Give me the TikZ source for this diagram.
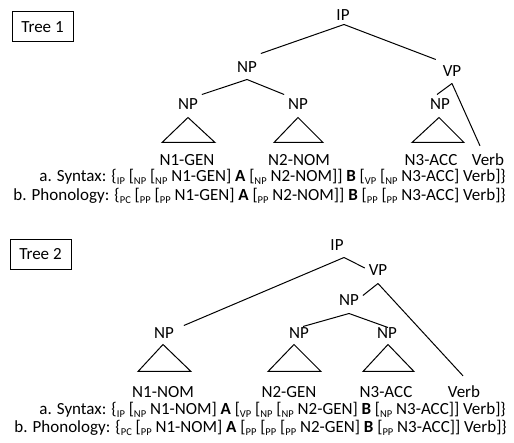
\documentclass[tikz,border=0pt]{standalone}
\usepackage{fontspec}
\setmainfont{Carlito}
\newcommand{\sbs}[1]{\raisebox{-0.4ex}{\fontsize{10.5}{10.5}\selectfont #1}}
\begin{document}
\begin{tikzpicture}[x=1pt,y=-1pt,
  lab/.style={inner sep=1pt,outer sep=3pt,text height=11pt,text depth=0pt,font=\fontsize{17}{17}\selectfont},
  leaf/.style={inner sep=0pt,font=\fontsize{17}{17}\selectfont},
  line/.style={anchor=east,inner sep=0pt,font=\fontsize{17}{17}\selectfont},
  treebox/.style={draw,line width=1pt,minimum width=61pt,minimum height=30pt,inner sep=0pt,font=\fontsize{17}{17}\selectfont},
  edge/.style={line width=1pt},
  tri/.style={line width=1pt}
]
\useasboundingbox (0,0) rectangle (514,443);

% ---------- Tree 1 ----------
\node[treebox] (t1) at (42.5,27) {Tree 1};
\node[lab] (ip1) at (343,15) {IP};
\node[lab] (np1) at (247,67) {NP};
\node[lab] (vp1) at (452,71) {VP};
\node[lab] (np1a) at (188,104) {NP};
\node[lab] (np1b) at (298,104) {NP};
\node[lab] (np1c) at (440,104) {NP};
\node[leaf] (l1a) at (187,160) {N1-GEN};
\node[leaf] (l1b) at (299,160) {N2-NOM};
\node[leaf] (l1c) at (431,160) {N3-ACC};
\node[leaf] (l1d) at (488,160) {Verb};

\draw[edge] ([xshift=1pt]ip1.south) -- ([yshift=4pt]np1.north east);
\draw[edge] ([xshift=1pt]ip1.south) -- ([xshift=-3pt,yshift=2pt]vp1.north west);
\draw[edge] ([yshift=-3pt]np1.south) -- (np1a.north east);
\draw[edge] ([yshift=-3pt]np1.south) -- (np1b.north west);
\draw[edge] ([yshift=-3pt]vp1.south) -- ([xshift=-3pt]np1c.north);
\draw[edge] ([yshift=-3pt]vp1.south) -- ([xshift=-8pt,yshift=8pt]l1d.north);

\draw[tri] ([yshift=-4pt]np1a.south) -- ++(-26,25) -- ++(53,0) -- cycle;
\draw[tri] ([yshift=-4pt]np1b.south) -- ++(-24,25) -- ++(49,0) -- cycle;
\draw[tri] ([xshift=-1pt,yshift=-4pt]np1c.south) -- ++(-27,25) -- ++(52,0) -- cycle;

\node[line] (syn1) at (506,177) {a. Syntax: \{\sbs{IP} [\sbs{NP} [\sbs{NP} N1-GEN] \textbf{A} [\sbs{NP} N2-NOM]] \textbf{B} [\sbs{VP} [\sbs{NP} N3-ACC] Verb]\}};
\node[line] (pho1) at (506,196) {b. Phonology: \{\sbs{PC} [\sbs{PP} [\sbs{PP} N1-GEN] \textbf{A} [\sbs{PP} N2-NOM]] \textbf{B} [\sbs{PP} [\sbs{PP} N3-ACC] Verb]\}};

% ---------- Tree 2 ----------
\node[treebox] (t2) at (40.5,254.5) {Tree 2};
\node[lab] (ip2) at (337,245) {IP};
\node[lab] (vp2) at (378,270) {VP};
\node[lab] (np2m) at (349,300) {NP};
\node[lab] (np2a) at (164,333) {NP};
\node[lab] (np2b) at (299,333) {NP};
\node[lab] (np2c) at (387,333) {NP};
\node[leaf] (l2a) at (163,392) {N1-NOM};
\node[leaf] (l2b) at (289,392) {N2-GEN};
\node[leaf] (l2c) at (386,392) {N3-ACC};
\node[leaf] (l2d) at (464,392) {Verb};

\draw[edge] ([xshift=7pt,yshift=-3pt]ip2.south) -- ([xshift=6pt,yshift=-2pt]np2a.north east);
\draw[edge] ([xshift=7pt,yshift=-3pt]ip2.south) -- ([yshift=2pt]vp2.west);
\draw[edge] ([yshift=-4pt]vp2.south) -- ([yshift=-5pt]np2m.north east);
\draw[edge] ([yshift=-4pt]vp2.south) -- ([xshift=-1pt,yshift=10pt]l2d.north);
\draw[edge] ([yshift=-4pt]np2m.south) -- ([xshift=4pt,yshift=-3pt]np2b.north);
\draw[edge] ([yshift=-4pt]np2m.south) -- ([xshift=1pt,yshift=-4pt]np2c.north);

\draw[tri] ([xshift=-1pt,yshift=-2pt]np2a.south) -- ++(-25,27) -- ++(53,0) -- cycle;
\draw[tri] ([xshift=-5pt,yshift=-2pt]np2b.south) -- ++(-26,27) -- ++(53,0) -- cycle;
\draw[tri] ([xshift=1pt,yshift=-2pt]np2c.south) -- ++(-25,27) -- ++(51,0) -- cycle;

\node[line] (syn2) at (506,410) {a. Syntax: \{\sbs{IP} [\sbs{NP} N1-NOM] \textbf{A} [\sbs{VP} [\sbs{NP} [\sbs{NP} N2-GEN] \textbf{B} [\sbs{NP} N3-ACC]] Verb]\}};
\node[line] (pho2) at (507,428) {b. Phonology: \{\sbs{PC} [\sbs{PP} N1-NOM] \textbf{A} [\sbs{PP} [\sbs{PP} [\sbs{PP} N2-GEN] \textbf{B} [\sbs{PP} N3-ACC]] Verb]\}};
\end{tikzpicture}
\end{document}
